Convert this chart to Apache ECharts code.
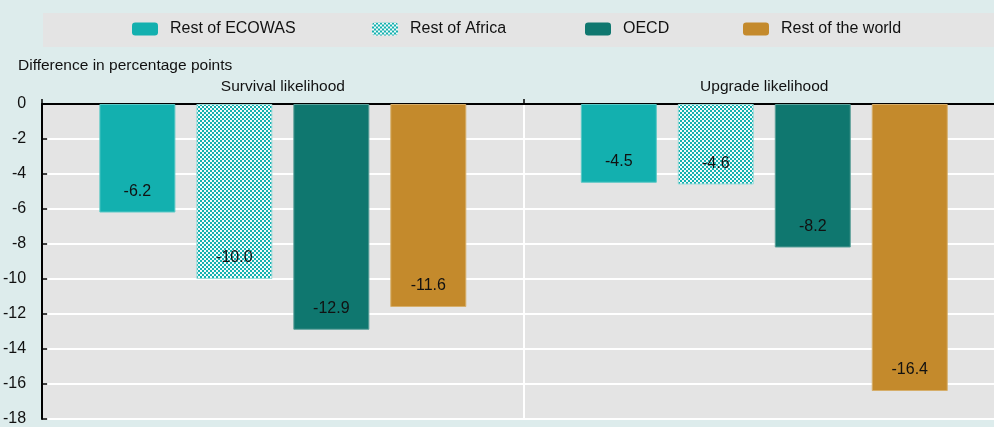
<!DOCTYPE html>
<html>
<head>
<meta charset="utf-8">
<script src="https://cdn.jsdelivr.net/npm/echarts@6/dist/echarts.min.js"></script>
<style>
  html, body { margin: 0; padding: 0; background: #DDECEC; overflow: hidden; }
  /* plot area runs slightly past the right edge of the window */
  #chart { width: 1010px; height: 427px; }
</style>
</head>
<body>
<div id="chart"></div>
<script>
// Difference in percentage points, by comparison group
const categories = ['Survival likelihood', 'Upgrade likelihood'];
const restOfEcowas = [-6.2, -4.5];
const restOfAfrica = [-10.0, -4.6];
const oecd = [-12.9, -8.2];
const restOfWorld = [-11.6, -16.4];
const seriesNames = ['Rest of ECOWAS', 'Rest of Africa', 'OECD', 'Rest of the world'];
const yTicks = [0, -2, -4, -6, -8, -10, -12, -14, -16, -18];

const FONT = "'Liberation Sans Narrow', 'Arial Narrow', 'Liberation Sans', Arial, sans-serif";
const FS = 15.5;

// Checkered fill for the "Rest of Africa" bars
function checker() {
  const c = document.createElement('canvas');
  c.width = 4; c.height = 4;
  const g = c.getContext('2d');
  g.fillStyle = '#F2FAFA';
  g.fillRect(0, 0, 4, 4);
  g.fillStyle = '#13B0AF';
  g.fillRect(0, 0, 2, 2);
  g.fillRect(2, 2, 2, 2);
  return c;
}

const chart = echarts.init(document.getElementById('chart'));

function bar(name, data, color, border) {
  return {
    name: name,
    type: 'bar',
    data: data,
    barWidth: 76,
    barGap: '27.6%',
    itemStyle: { color: color, borderColor: border, borderWidth: 1 },
    label: {
      show: true,
      position: 'insideBottom',
      distance: 13,
      fontFamily: FONT,
      fontSize: 16,
      color: '#111',
      formatter: p => p.value.toFixed(1)
    }
  };
}

function legendAt(name, left) {
  return {
    data: [name],
    left: left,
    top: 21,
    padding: 0,
    itemWidth: 26,
    itemHeight: 13,
    itemStyle: { borderWidth: 0 },
    selectedMode: false,
    textStyle: { fontFamily: FONT, fontSize: 16, color: '#111', padding: [0, 0, 0, 7] }
  };
}

chart.setOption({
  backgroundColor: '#DDECEC',
  animation: false,
  legend: [
    legendAt(seriesNames[0], 132),
    legendAt(seriesNames[1], 372),
    legendAt(seriesNames[2], 585),
    legendAt(seriesNames[3], 743)
  ],
  graphic: [
    {
      type: 'rect', z: -10,
      shape: { x: 43, y: 13, width: 1000, height: 34 },
      style: { fill: '#E4E4E4' }
    },
    {
      type: 'text', left: 18, top: 58,
      style: { text: 'Difference in percentage points', font: FS + 'px ' + FONT, fill: '#111' }
    }
  ],
  grid: {
    left: 41, top: 104, width: 964, height: 315,
    show: true, backgroundColor: '#E4E4E4', borderWidth: 0,
    containLabel: false
  },
  xAxis: {
    type: 'category',
    position: 'top',
    data: categories,
    axisLine: { onZero: false, lineStyle: { color: '#000', width: 2 } },
    axisTick: { show: true, length: 5, lineStyle: { color: '#000', width: 1.5 } },
    axisLabel: { fontFamily: FONT, fontSize: FS, color: '#111', margin: 9 },
    splitLine: { show: true, lineStyle: { color: '#FFFFFF', width: 2 } }
  },
  yAxis: {
    type: 'value',
    min: yTicks[yTicks.length - 1],
    max: yTicks[0],
    interval: 2,
    axisLine: { show: true, lineStyle: { color: '#000', width: 2 } },
    axisTick: { show: true, inside: true, length: 5, lineStyle: { color: '#000', width: 1.5 } },
    axisLabel: { fontFamily: FONT, fontSize: 16, color: '#111', margin: 16 },
    splitLine: { show: true, lineStyle: { color: '#FFFFFF', width: 2 } }
  },
  series: [
    bar(seriesNames[0], restOfEcowas, '#13B0AF', '#5CC8C6'),
    bar(seriesNames[1], restOfAfrica, { image: checker(), repeat: 'repeat' }, '#9ADCDA'),
    bar(seriesNames[2], oecd, '#0F776F', '#5A9F99'),
    bar(seriesNames[3], restOfWorld, '#C48A2C', '#D6AE6A')
  ]
});
</script>
</body>
</html>
